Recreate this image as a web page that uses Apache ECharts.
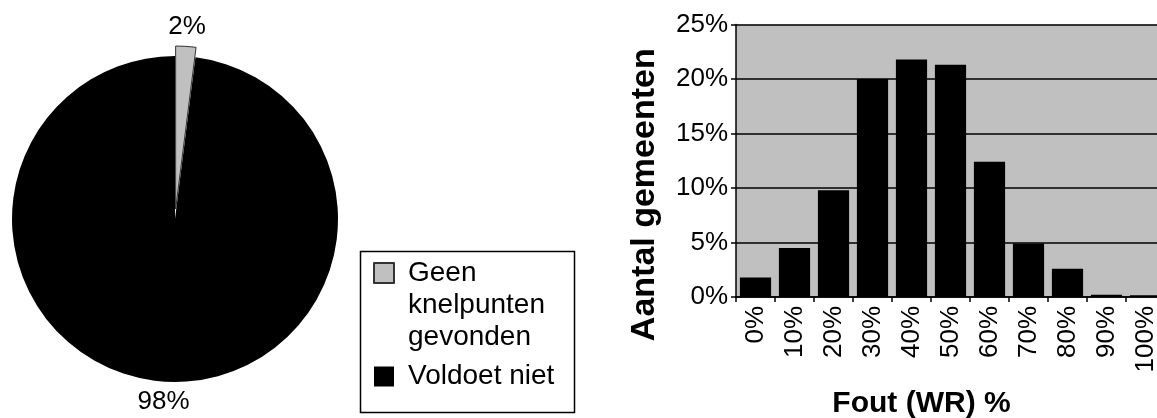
<!DOCTYPE html>
<html>
<head>
<meta charset="utf-8">
<script src="https://cdn.jsdelivr.net/npm/echarts@6/dist/echarts.min.js"></script>
<style>
html,body{margin:0;padding:0;background:#fff;}
#chart{width:1157px;height:418px;}
</style>
</head>
<body>
<div id="chart"></div>
<script>
// Pie data
var pieNames = ['Geen knelpunten gevonden', 'Voldoet niet'];
var pieValues = [2, 98];

// Bar data
var binLabels = ['0%', '10%', '20%', '30%', '40%', '50%', '60%', '70%', '80%', '90%', '100%'];
var binValues = [1.8, 4.5, 9.8, 20.0, 21.8, 21.3, 12.4, 4.9, 2.6, 0.2, 0.15];

// Y tick values (percent)
var yMin = 0, yMax = 25, yStep = 5;

var chart = echarts.init(document.getElementById('chart'), null, {renderer: 'canvas'});
var FONT = 'Liberation Sans, Arial, sans-serif';

var option = {
  animation: false,
  textStyle: {fontFamily: FONT, color: '#000'},
  grid: {
    left: 736, right: -8, top: 24.5, bottom: 121,
    show: true, backgroundColor: '#c0c0c0', borderWidth: 0,
    containLabel: false, outerBoundsMode: 'none'
  },
  xAxis: {
    type: 'category',
    data: binLabels,
    boundaryGap: true,
    axisLine: {show: true, lineStyle: {color: '#000', width: 1.5}},
    axisTick: {show: true, length: 5, alignWithLabel: false, lineStyle: {color: '#000', width: 1.5}},
    axisLabel: {rotate: 90, fontSize: 26, color: '#000', margin: 9, fontFamily: FONT},
    splitLine: {show: false},
    name: 'Fout (WR) %',
    nameLocation: 'middle',
    nameGap: 92,
    nameTextStyle: {fontSize: 30, fontWeight: 'bold', color: '#000', fontFamily: FONT, padding: [0, 58, 0, 0]}
  },
  yAxis: {
    type: 'value',
    min: yMin, max: yMax, interval: yStep,
    axisLine: {show: true, lineStyle: {color: '#000', width: 1.5}},
    axisTick: {show: true, length: 5, lineStyle: {color: '#000', width: 1.5}},
    axisLabel: {formatter: '{value}%', fontSize: 26, color: '#000', margin: 8, fontFamily: FONT},
    splitLine: {show: true, lineStyle: {color: '#000', width: 1.5}},
    name: 'Aantal gemeenten',
    nameLocation: 'middle',
    nameGap: 74,
    nameTextStyle: {fontSize: 34, fontWeight: 'bold', color: '#000', fontFamily: FONT, padding: [0, 68, 0, 0]}
  },
  legend: {
    orient: 'vertical',
    left: 373, top: 193,
    padding: 0,
    itemWidth: 20, itemHeight: 20, itemGap: 7.5,
    icon: 'rect',
    selectedMode: false,
    textStyle: {fontSize: 28, lineHeight: 32, color: '#000', fontFamily: FONT, padding: [0, 0, 0, 9]},
    data: [
      {name: pieNames[0]},
      {name: pieNames[1]}
    ],
    formatter: function (n) { return n === pieNames[0] ? '\n\n' + n.split(' ').join('\n') : n; }
  },
  graphic: [{
    type: 'rect', left: 358, top: 249,
    shape: {width: 214, height: 161},
    style: {fill: 'none', stroke: '#000', lineWidth: 1.5},
    silent: true
  }],
  series: [
    {
      type: 'pie',
      center: [175, 219],
      radius: 163,
      startAngle: 90,
      clockwise: true,
      avoidLabelOverlap: false,
      selectedMode: 'single',
      selectedOffset: 10,
      emphasis: {disabled: true},
      label: {
        show: true, position: 'outside', formatter: '{d}%',
        fontSize: 26, color: '#000', fontFamily: FONT, distanceToLabelLine: 0
      },
      labelLine: {show: false, length: 20, length2: 0},
      labelLayout: {align: 'center'},
      data: [
        {name: pieNames[0], value: pieValues[0], selected: true,
         itemStyle: {color: '#c0c0c0', borderColor: '#333', borderWidth: 1}},
        {name: pieNames[1], value: pieValues[1],
         itemStyle: {color: '#000', borderColor: '#000', borderWidth: 0}}
      ]
    },
    {
      type: 'bar',
      data: binValues,
      barCategoryGap: '20%',
      itemStyle: {color: '#000'},
      emphasis: {disabled: true}
    }
  ]
};
chart.setOption(option);
</script>
</body>
</html>
